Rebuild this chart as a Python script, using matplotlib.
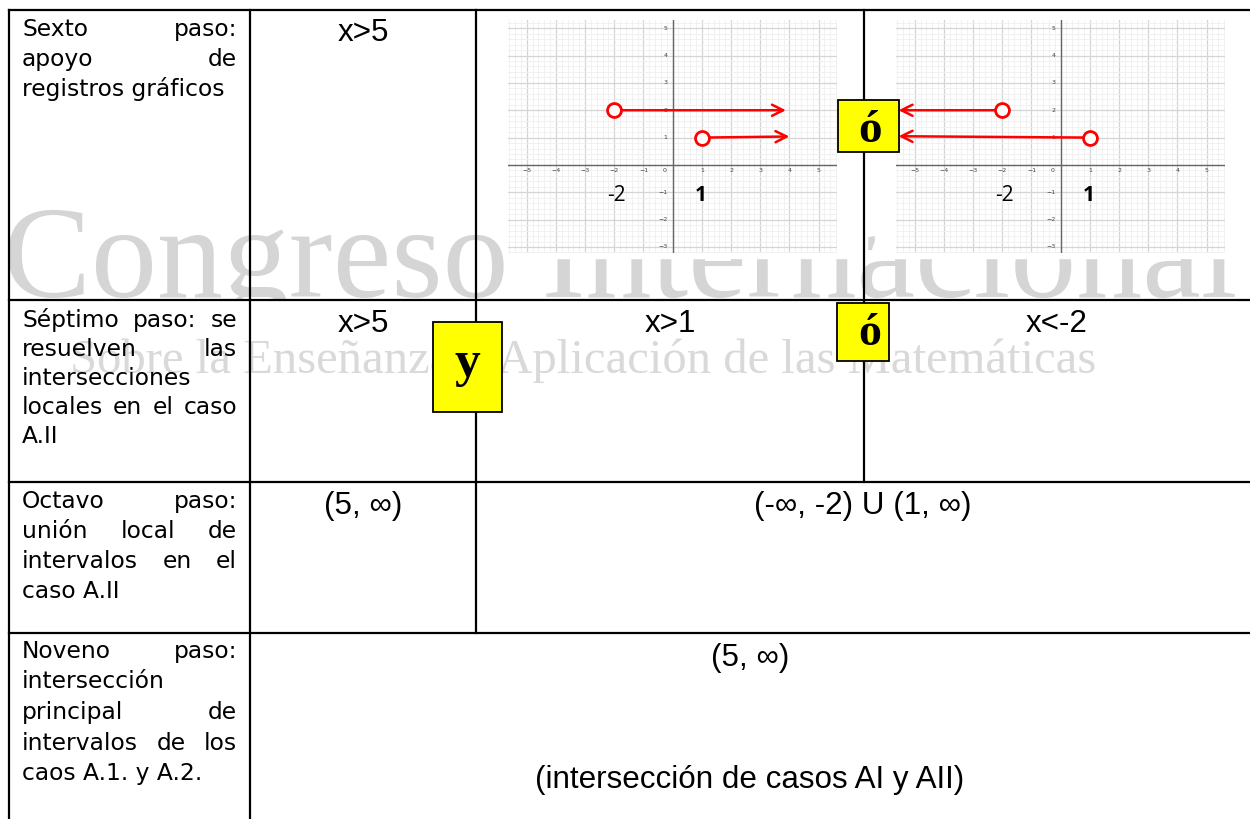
# step table with two interval graphs (steps 6-9)

import matplotlib.pyplot as plt
from matplotlib.patches import Rectangle
from matplotlib.transforms import Bbox, TransformedBbox
import numpy as np

W, H = 1250, 819

# text of the first column, one list per row, already broken in lines
step_labels = [
    ["Sexto paso:", "apoyo de", "registros gráficos"],
    ["Séptimo paso: se", "resuelven las", "intersecciones", "locales en el caso", "A.II"],
    ["Octavo paso:", "unión local de", "intervalos en el", "caso A.II"],
    ["Noveno paso:", "intersección", "principal de", "intervalos de los", "caos A.1. y A.2."],
]
row6_vals = ["x>5"]
row7_vals = ["x>5", "x>1", "x<-2"]
row8_vals = ["(5, ∞)", "(-∞, -2) U (1, ∞)"]
row9_vals = ["(5, ∞)", "(intersección de casos AI y AII)"]
connectors = ["ó", "y", "ó"]

# step 6 graphs: open end points and where the arrows stop
pts_x = [-2, 1]
pts_y = [2, 1]
right_end_x = [3.88, 4.0]
right_end_y = [2.0, 1.04]
left_end_x = [-5.55, -5.55]
left_end_y = [2.0, 1.05]
marks = ["-2", "1"]

cols = [9, 250, 476, 864, 1250]
rows = [10, 300, 482, 633, 819]

LAB = dict(family="DejaVu Sans", fontsize=16.8, color="black")
VAL = dict(family=["Liberation Sans", "DejaVu Sans"], fontsize=22.6, color="black")

fig = plt.figure(figsize=(W/100, H/100), dpi=100)

bg = fig.add_axes([0, 0, 1, 1], zorder=0)
bg.set_xlim(0, W)
bg.set_ylim(H, 0)
bg.axis("off")

# watermark, cut at the first row line like the pasted picture
wm = bg.text(3, 297, "Congreso Internacional", family="Liberation Serif",
             fontsize=95, color="#d5d5d5", va="baseline", ha="left")
wm.set_clip_box(TransformedBbox(Bbox([[0, 1 - 299/H], [1, 1]]), fig.transFigure))
wm.set_clip_on(True)
bg.text(70, 373, "Sobre la Enseñanza y Aplicación de las Matemáticas",
        family="Liberation Serif", fontsize=35, color="#d9d9d9", va="baseline")
# white backgrounds of the pasted graph pictures
bg.add_patch(Rectangle((505, 12), 345, 246, color="white", zorder=3))
bg.add_patch(Rectangle((875, 12), 365, 246, color="white", zorder=3))


def graph(px0, end_x, end_y):
    ax = fig.add_axes([px0/W, 1 - 253/H, 329/W, 233/H], zorder=1)
    ax.set_xlim(-5.64, 5.63)
    ax.set_ylim(-3.22, 5.3)
    ax.set_xticks(np.arange(-5, 6))
    ax.set_yticks(np.arange(-3, 6))
    ax.set_xticks(np.arange(-5.6, 5.7, 0.2), minor=True)
    ax.set_yticks(np.arange(-3.2, 5.3, 0.2), minor=True)
    ax.grid(which="minor", color="#efefef", lw=0.6)
    ax.grid(which="major", color="#d5d5d5", lw=0.9)
    ax.tick_params(which="both", length=0, labelbottom=False, labelleft=False)
    for s in ax.spines.values():
        s.set_visible(False)
    ax.axhline(0, color="#666666", lw=1)
    ax.axvline(0, color="#666666", lw=1)
    for k in range(-5, 6):
        if k == 0:
            ax.text(-0.2, -0.12, "0", fontsize=4.5, color="#444", ha="right", va="top")
        else:
            ax.text(k, -0.12, str(k).replace("-", "−"), fontsize=4.5, color="#444",
                    ha="center", va="top")
    for k in range(-3, 6):
        if k != 0:
            ax.text(-0.17, k, str(k).replace("-", "−"), fontsize=4.5, color="#444",
                    ha="right", va="center")
    for x0, y0, x1, y1 in zip(pts_x, pts_y, end_x, end_y):
        ax.annotate("", xy=(x1, y1), xytext=(x0, y0),
                    arrowprops=dict(arrowstyle="->", color="red", lw=1.8,
                                    mutation_scale=20, shrinkA=4, shrinkB=0))
        ax.plot(x0, y0, "o", ms=10, mfc="white", mec="red", mew=2, zorder=5)
    ax.text(pts_x[0] + 0.08, -1.13, marks[0], family="Open Sans", fontsize=15,
            ha="center", va="center")
    ax.text(pts_x[1] - 0.03, -1.13, marks[1], family="Open Sans", fontsize=15,
            fontweight="bold", ha="center", va="center")
    return ax


graph(508, right_end_x, right_end_y)
graph(896, left_end_x, left_end_y)

tab = fig.add_axes([0, 0, 1, 1], zorder=2)
tab.set_xlim(0, W)
tab.set_ylim(H, 0)
tab.axis("off")
tab.patch.set_visible(False)

lw = 1.6
tab.plot([cols[0], W], [rows[0], rows[0]], color="black", lw=lw)
for y in rows[1:4]:
    tab.plot([cols[0], W], [y, y], color="black", lw=lw)
tab.plot([cols[0], cols[0]], [rows[0], H], color="black", lw=lw)
tab.plot([cols[1], cols[1]], [rows[0], H], color="black", lw=lw)
tab.plot([cols[2], cols[2]], [rows[0], rows[3]], color="black", lw=lw)
tab.plot([cols[3], cols[3]], [rows[0], rows[2]], color="black", lw=lw)

r = fig.canvas.get_renderer()


def put_lines(lines, x0, x1, y0, dy):
    for i, line in enumerate(lines):
        y = y0 + i*dy
        words = line.split()
        if i == len(lines) - 1 or len(words) == 1:
            tab.text(x0, y, line, va="baseline", ha="left", **LAB)
            continue
        ts = [tab.text(0, y, w, va="baseline", ha="left", **LAB) for w in words]
        ws = [t.get_window_extent(r).width for t in ts]
        gap = (x1 - x0 - sum(ws)) / (len(words) - 1)
        x = x0
        for t, w in zip(ts, ws):
            t.set_x(x)
            x += w + gap


put_lines(step_labels[0], 22, 237, 36, 30)
put_lines(step_labels[1], 22, 237, 327, 29)
put_lines(step_labels[2], 22, 237, 508, 30)
put_lines(step_labels[3], 22, 237, 658, 30.5)

mid = lambda a, b: (cols[a] + cols[b]) / 2
tab.text(mid(1, 2), 41, row6_vals[0], ha="center", va="baseline", **VAL)
for v, (a, b) in zip(row7_vals, [(1, 2), (2, 3), (3, 4)]):
    tab.text(mid(a, b), 332, v, ha="center", va="baseline", **VAL)
for v, (a, b) in zip(row8_vals, [(1, 2), (2, 4)]):
    tab.text(mid(a, b), 514, v, ha="center", va="baseline", **VAL)
tab.text(mid(1, 4), 666, row9_vals[0], ha="center", va="baseline", **VAL)
tab.text(mid(1, 4), 788, row9_vals[1], ha="center", va="baseline", **VAL)

# yellow connector boxes
boxes = [(838, 100, 61, 52, 870, 142, 34),
         (433, 322, 69, 90, 467, 376, 37),
         (837, 303, 52, 58, 870, 345, 33)]
for txt, (bx, by, bw, bh, tx, ty, fs) in zip(connectors, boxes):
    tab.add_patch(Rectangle((bx, by), bw, bh, facecolor="#ffff00",
                            edgecolor="black", lw=1.3, zorder=6))
    tab.text(tx, ty, txt, family="Liberation Serif", fontweight="bold",
             fontsize=fs, ha="center", va="baseline", zorder=7)

fig.savefig("out.png", dpi=100)
